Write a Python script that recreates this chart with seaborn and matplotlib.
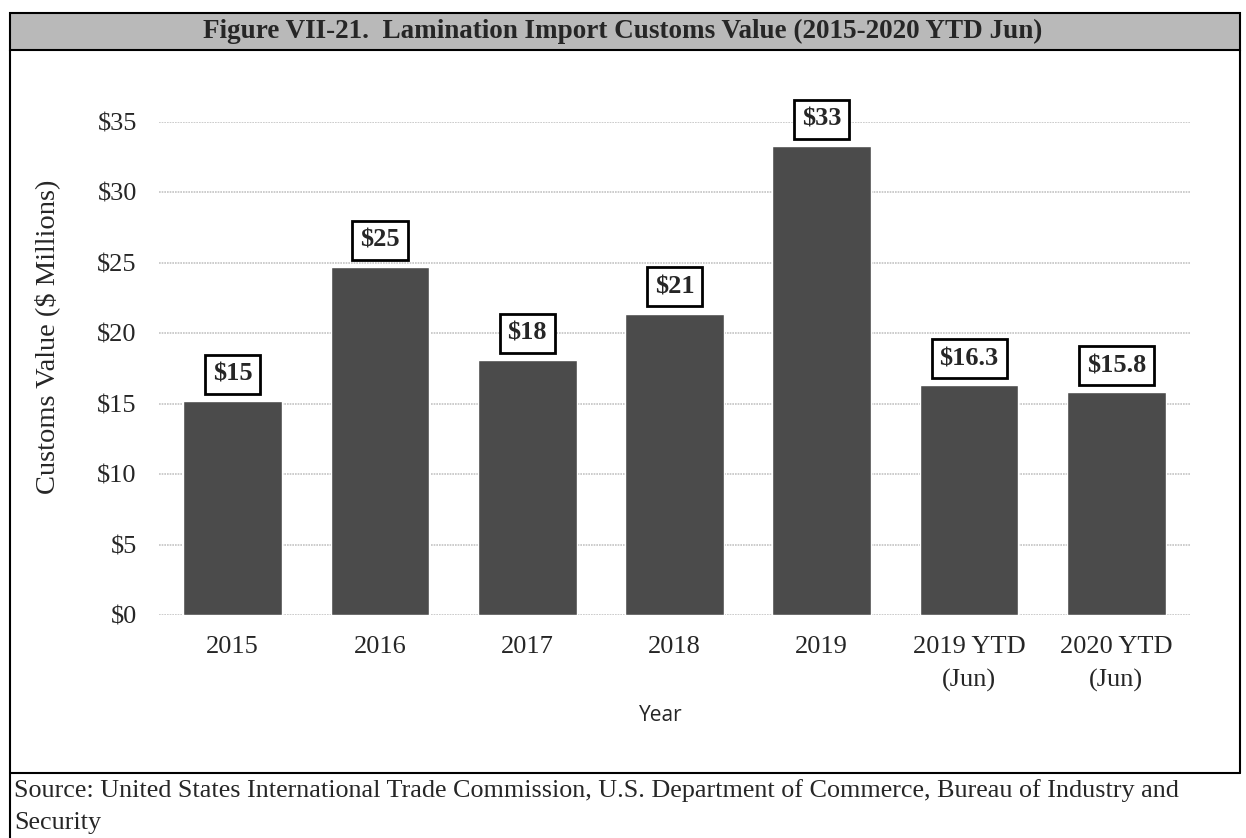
import matplotlib
matplotlib.use('Agg')
import matplotlib.pyplot as plt
from matplotlib.patches import Rectangle
from matplotlib.lines import Line2D
import seaborn as sns
import pandas as pd

sns.set_style('white')
plt.rcParams['font.family'] = ['Liberation Serif', 'DejaVu Serif']

# ---------------------------------------------------------------------------------------
# Data

years = ['2015', '2016', '2017', '2018', '2019', '2019 YTD\n(Jun)', '2020 YTD\n(Jun)']
values = [15.2, 24.7, 18.1, 21.4, 33.3, 16.3, 15.8]
labels = ['$15', '$25', '$18', '$21', '$33', '$16.3', '$15.8']
y_ticks = [0, 5, 10, 15, 20, 25, 30, 35]

df = pd.DataFrame({'year': years, 'value': values})

# ---------------------------------------------------------------------------------------
# Figure frame

W, H = 1246, 838
fig = plt.figure(figsize=(W / 100, H / 100), dpi=100)

def fx(px):
    return px / W

def fy(py):
    return 1 - py / H

# title bar
fig.patches.append(Rectangle((fx(10), fy(50)), fx(1240) - fx(10), fy(13) - fy(50),
                             transform=fig.transFigure, facecolor='#b9b9b9',
                             edgecolor='black', linewidth=1.5))
fig.text(fx(623), fy(31), 'Figure VII-21.  Lamination Import Customs Value (2015-2020 YTD Jun)',
         ha='center', va='center', fontsize=19.5, fontweight='bold')

# borders
fig.lines.append(Line2D([fx(10), fx(10)], [fy(50), fy(838)], transform=fig.transFigure,
                        color='black', linewidth=1.5))
fig.lines.append(Line2D([fx(1240), fx(1240)], [fy(50), fy(773)], transform=fig.transFigure,
                        color='black', linewidth=1.5))
fig.lines.append(Line2D([fx(10), fx(1240)], [fy(773), fy(773)], transform=fig.transFigure,
                        color='black', linewidth=1.5))

# source
fig.text(fx(14), fy(791), 'Source: United States International Trade Commission, U.S. Department of Commerce, '
         'Bureau of Industry and', ha='left', va='center', fontsize=18.8)
fig.text(fx(14), fy(823), 'Security', ha='left', va='center', fontsize=18.8)

# ---------------------------------------------------------------------------------------
# Bar chart

ax = fig.add_axes([fx(159), fy(615), fx(1190) - fx(159), fy(122) - fy(615)])
sns.barplot(data=df, x='year', y='value', color='#4b4b4b', saturation=1, width=0.67, ax=ax)

ax.set_ylim(0, 35)
ax.set_yticks(y_ticks)
ax.set_yticklabels([f'${t}' for t in y_ticks], fontsize=19)
ax.tick_params(axis='x', labelsize=19, length=0, pad=15)
ax.tick_params(axis='y', length=0, pad=16)
for t in ax.get_xticklabels():
    t.set_linespacing(1.6)
ax.grid(axis='y', color='#c4c4c4', linewidth=1.2, linestyle=(0, (1, 0.6)))
ax.set_axisbelow(True)
for s in ax.spines.values():
    s.set_visible(False)

ax.set_ylabel('Customs Value ($ Millions)', fontsize=20.5)
ax.yaxis.set_label_coords((60 - 159) / 1031, 0.565)
ax.set_xlabel('Year', fontsize=15, family=['Open Sans', 'DejaVu Sans'])
ax.xaxis.set_label_coords((661 - 159) / 1031, (615 - 705) / 493)

for i, (v, lab) in enumerate(zip(values, labels)):
    ax.annotate(lab, xy=(i, v), xytext=(0, 11), textcoords='offset points',
                ha='center', va='bottom', fontsize=19, fontweight='bold',
                annotation_clip=False,
                bbox=dict(boxstyle='square,pad=0.3', facecolor='white',
                          edgecolor='black', linewidth=2))

fig.savefig('out.png', dpi=100)
